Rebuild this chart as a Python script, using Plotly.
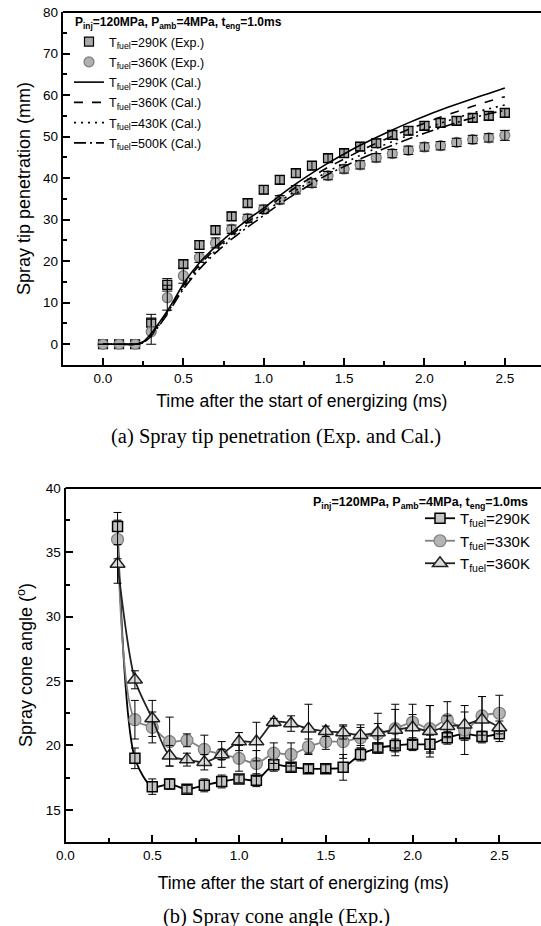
import plotly.graph_objects as go

W, H = 541, 926

# ---------------- data: (a) spray tip penetration ----------------
t_exp = [0.0, 0.1, 0.2, 0.3, 0.4, 0.5, 0.6, 0.7, 0.8, 0.9, 1.0, 1.1, 1.2,
         1.3, 1.4, 1.5, 1.6, 1.7, 1.8, 1.9, 2.0, 2.1, 2.2, 2.3, 2.4, 2.5]
exp290 = [0, 0, 0, 5.2, 14.3, 19.3, 23.9, 27.5, 30.8, 34.0, 37.2, 39.6, 41.2,
          43.0, 44.8, 46.0, 47.6, 48.4, 50.4, 51.4, 52.6, 53.3, 53.8, 54.5, 55.0, 55.7]
err290 = [0, 0, 0, 2.0, 1.5, 1.0, 1.0, 1.0, 1.0, 1.0, 1.0, 1.0, 1.0,
          1.0, 1.0, 1.0, 1.0, 1.0, 1.0, 1.0, 1.0, 1.0, 1.0, 1.0, 1.0, 1.0]
exp360 = [0, 0, 0, 3.0, 11.2, 16.5, 20.9, 24.4, 27.7, 30.3, 32.5, 34.8, 37.2,
          38.8, 40.6, 42.2, 43.2, 44.9, 45.9, 46.7, 47.5, 47.8, 48.6, 49.3, 49.7, 50.3]
err360 = [0, 0, 0, 3.0, 3.0, 1.8, 1.2, 1.2, 1.0, 1.0, 1.0, 1.0, 1.0,
          1.0, 1.0, 1.0, 1.0, 1.0, 1.0, 1.0, 1.0, 1.0, 1.0, 1.0, 1.0, 1.2]

t_cal = [0.0, 0.1, 0.2, 0.25, 0.3, 0.35, 0.4, 0.45, 0.5, 0.6, 0.7, 0.8, 0.9, 1.0,
         1.1, 1.2, 1.3, 1.4, 1.5, 1.6, 1.7, 1.8, 1.9, 2.0, 2.1, 2.2, 2.3, 2.4, 2.5]
cal290 = [0, 0, 0, 0.6, 2.6, 5.2, 8.0, 11.2, 14.5, 19.6, 23.5, 26.9, 30.0, 32.8,
          35.8, 38.6, 41.2, 43.6, 45.8, 47.9, 49.8, 51.6, 53.3, 54.9, 56.4, 57.8, 59.1, 60.4, 61.7]
cal360 = [0, 0, 0, 0.5, 2.4, 5.0, 7.8, 10.9, 14.1, 19.1, 23.0, 26.4, 29.4, 32.2,
          35.1, 37.8, 40.3, 42.6, 44.6, 46.6, 48.4, 50.1, 51.7, 53.2, 54.7, 56.0, 57.3, 58.5, 59.6]
cal430 = [0, 0, 0, 0.4, 2.2, 4.7, 7.5, 10.6, 13.7, 18.6, 22.5, 25.9, 28.8, 31.6,
          34.4, 37.0, 39.4, 41.6, 43.6, 45.5, 47.2, 48.8, 50.3, 51.8, 53.2, 54.5, 55.7, 56.7, 57.6]
cal500 = [0, 0, 0, 0.3, 2.0, 4.5, 7.2, 10.3, 13.3, 18.1, 22.0, 25.3, 28.2, 31.0,
          33.8, 36.3, 38.7, 40.9, 42.8, 44.6, 46.3, 47.9, 49.4, 50.8, 52.1, 53.4, 54.5, 55.5, 56.3]

# ---------------- data: (b) spray cone angle ----------------
t_ang = [0.3, 0.4, 0.5, 0.6, 0.7, 0.8, 0.9, 1.0, 1.1, 1.2, 1.3, 1.4,
         1.5, 1.6, 1.7, 1.8, 1.9, 2.0, 2.1, 2.2, 2.3, 2.4, 2.5]
ang290 = [37.0, 19.0, 16.8, 17.0, 16.6, 16.9, 17.2, 17.4, 17.3, 18.5, 18.3, 18.2,
          18.2, 18.3, 19.3, 19.8, 20.0, 20.1, 20.1, 20.6, 20.9, 20.7, 20.9]
e_ang290 = [1.1, 0.8, 0.6, 0.4, 0.3, 0.5, 0.5, 0.3, 0.5, 0.5, 0.3, 0.3,
            0.3, 1.0, 0.5, 0.4, 0.5, 0.5, 0.7, 0.5, 0.5, 0.4, 0.6]
ang330 = [36.0, 22.0, 21.4, 20.3, 20.4, 19.7, 19.3, 19.0, 18.6, 19.4, 19.3, 19.9,
          20.3, 20.3, 20.6, 20.9, 21.3, 21.8, 21.3, 22.0, 21.2, 22.3, 22.5]
e_ang330 = [1.5, 1.5, 1.2, 1.9, 0.5, 1.1, 1.0, 1.0, 1.0, 0.8, 0.9, 0.6,
            0.6, 1.3, 0.8, 0.8, 1.5, 1.4, 1.8, 1.4, 1.9, 1.5, 1.4]
ang360 = [34.1, 25.1, 22.1, 19.2, 18.9, 18.7, 19.3, 20.3, 20.3, 21.8, 21.7, 21.3,
          21.1, 21.0, 20.8, 21.0, 21.2, 21.4, 21.1, 21.5, 21.6, 22.0, 21.4]
e_ang360 = [1.5, 0.7, 1.4, 0.8, 0.5, 0.6, 0.4, 0.7, 1.5, 0.3, 0.6, 1.9,
            0.4, 0.5, 0.8, 1.5, 2.0, 1.0, 2.0, 0.8, 1.0, 1.8, 0.5]

SANS = "Liberation Sans, Arial, sans-serif"
SERIF = "Liberation Serif, Times New Roman, serif"

fig = go.Figure()


def err(vals, w):
    return dict(type="data", array=vals, visible=True, color="black", thickness=1, width=w)


def overlay(x, y, e, w, xa, ya, lg, grp):
    # error bars drawn on top of the markers, as in the original figure
    return go.Scatter(x=x, y=y, mode="markers", marker=dict(size=1, opacity=0), error_y=err(e, w),
                      showlegend=False, hoverinfo="skip", xaxis=xa, yaxis=ya, legend=lg, legendgroup=grp)


# top: experiments
fig.add_trace(go.Scatter(x=t_exp, y=exp290, mode="markers", name="T<sub>fuel</sub>=290K (Exp.)",
                         marker=dict(symbol="square", size=9, color="#a9a9a9", line=dict(color="black", width=1.2)),
                         xaxis="x", yaxis="y", legend="legend", legendgroup="a1"))
fig.add_trace(overlay(t_exp, exp290, err290, 5, "x", "y", "legend", "a1"))
fig.add_trace(go.Scatter(x=t_exp, y=exp360, mode="markers", name="T<sub>fuel</sub>=360K (Exp.)",
                         marker=dict(symbol="circle", size=10, color="#b0b0b0", line=dict(color="#7a7a7a", width=1.2)),
                         xaxis="x", yaxis="y", legend="legend", legendgroup="a2"))
fig.add_trace(overlay(t_exp, exp360, err360, 5, "x", "y", "legend", "a2"))
# top: calculations
cal_sets = [(cal290, "290K", "solid"), (cal360, "360K", "dash"),
            (cal430, "430K", "2px,5px"), (cal500, "500K", "12px,4px,2px,4px")]
for i, (vals, lab, dash) in enumerate(cal_sets):
    fig.add_trace(go.Scatter(x=t_cal, y=vals, mode="lines", name="T<sub>fuel</sub>=" + lab + " (Cal.)",
                             line=dict(color="black", width=1.6, dash=dash, shape="spline", smoothing=0.6),
                             xaxis="x", yaxis="y", legend="legend", legendgroup="c%d" % i))

# bottom
fig.add_trace(go.Scatter(x=t_ang, y=ang290, mode="lines+markers", name="T<sub>fuel</sub>=290K",
                         line=dict(color="black", width=1.8, shape="spline", smoothing=0.8),
                         marker=dict(symbol="square", size=10, color="#c4c4c4", line=dict(color="black", width=1.5)),
                         xaxis="x2", yaxis="y2", legend="legend2", legendgroup="b1"))
fig.add_trace(overlay(t_ang, ang290, e_ang290, 4, "x2", "y2", "legend2", "b1"))
fig.add_trace(go.Scatter(x=t_ang, y=ang330, mode="lines+markers", name="T<sub>fuel</sub>=330K",
                         line=dict(color="#808080", width=1.8, shape="spline", smoothing=0.8),
                         marker=dict(symbol="circle", size=12, color="#b4b4b4", line=dict(color="#808080", width=1.2)),
                         xaxis="x2", yaxis="y2", legend="legend2", legendgroup="b2"))
fig.add_trace(overlay(t_ang, ang330, e_ang330, 4, "x2", "y2", "legend2", "b2"))
fig.add_trace(go.Scatter(x=t_ang, y=ang360, mode="lines+markers", name="T<sub>fuel</sub>=360K",
                         line=dict(color="#222222", width=1.8, shape="spline", smoothing=0.8),
                         marker=dict(symbol="triangle-up", size=13, color="#dcdcdc", line=dict(color="#222222", width=1.5)),
                         xaxis="x2", yaxis="y2", legend="legend2", legendgroup="b3"))
fig.add_trace(overlay(t_ang, ang360, e_ang360, 4, "x2", "y2", "legend2", "b3"))


def xax(domain, rng, standoff):
    return dict(domain=domain, range=rng, showline=True, linewidth=2, linecolor="black", automargin=False,
                ticks="inside", ticklen=7, tickwidth=2, tickcolor="black", dtick=0.5, tick0=0,
                tickformat=".1f", showgrid=False, zeroline=False,
                minor=dict(ticks="inside", ticklen=4, tickwidth=1.5, dtick=0.25, tick0=0, tickcolor="black"),
                tickfont=dict(family=SANS, size=13.5, color="black"),
                title=dict(text="Time after the start of energizing (ms)", standoff=standoff,
                           font=dict(family=SANS, size=17.5, color="black")))


def yax(domain, rng, dtick, title):
    return dict(domain=domain, range=rng, showline=True, linewidth=2, linecolor="black", automargin=False,
                ticks="inside", ticklen=7, tickwidth=2, tickcolor="black", dtick=dtick, tick0=0,
                showgrid=False, zeroline=False,
                minor=dict(ticks="inside", ticklen=4, tickwidth=1.5, dtick=dtick / 2, tick0=0, tickcolor="black"),
                tickfont=dict(family=SANS, size=13.5, color="black"),
                title=dict(text=title, standoff=8, font=dict(family=SANS, size=18, color="black")))


top_y = [1 - 365 / H, 1 - 12 / H]
bot_y = [1 - 842 / H, 1 - 488 / H]
top_xl = 62.8 / W
bot_xl = 65.5 / W

hdr = "<b>P<sub>inj</sub>=120MPa, P<sub>amb</sub>=4MPa, t<sub>eng</sub>=1.0ms</b>"

fig.update_layout(
    width=W, height=H, margin=dict(l=0, r=0, t=0, b=0),
    paper_bgcolor="white", plot_bgcolor="white",
    font=dict(family=SANS, color="black"),
    xaxis=xax([top_xl, 1], [-0.25, 2.725], 10) | dict(anchor="y"),
    yaxis=yax(top_y, [-5, 80], 10, "Spray tip penetration (mm)") | dict(anchor="x"),
    xaxis2=xax([bot_xl, 1], [0, 2.74], 15) | dict(anchor="y2"),
    yaxis2=yax(bot_y, [12.5, 40], 5, "Spray cone angle (<sup>o</sup>)") | dict(anchor="x2"),
    legend=dict(x=69 / W, y=1 - 27 / H, xanchor="left", yanchor="top", bgcolor="rgba(0,0,0,0)",
                font=dict(family=SANS, size=12.5, color="black"), itemwidth=30, tracegroupgap=1),
    legend2=dict(x=420 / W, y=1 - 502 / H, xanchor="left", yanchor="top", bgcolor="rgba(0,0,0,0)",
                 font=dict(family=SANS, size=15, color="black"), itemwidth=30, tracegroupgap=0),
    shapes=[
        dict(type="line", xref="paper", yref="paper", x0=top_xl, x1=1, y0=top_y[1], y1=top_y[1],
             line=dict(color="black", width=2)),
        dict(type="line", xref="paper", yref="paper", x0=bot_xl, x1=1, y0=bot_y[1], y1=bot_y[1],
             line=dict(color="black", width=2)),
    ],
    annotations=[
        dict(text=hdr, xref="paper", yref="paper", x=73 / W, y=1 - 23 / H, xanchor="left", yanchor="middle",
             showarrow=False, font=dict(family=SANS, size=12, color="black")),
        dict(text=hdr, xref="paper", yref="paper", x=530 / W, y=1 - 503 / H, xanchor="right", yanchor="middle",
             showarrow=False, font=dict(family=SANS, size=12.5, color="black")),
        dict(text="(a) Spray tip penetration (Exp. and Cal.)", xref="paper", yref="paper",
             x=276 / W, y=1 - 437 / H, xanchor="center", yanchor="middle",
             showarrow=False, font=dict(family=SERIF, size=20.5, color="black")),
        dict(text="(b) Spray cone angle (Exp.)", xref="paper", yref="paper",
             x=276 / W, y=1 - 916 / H, xanchor="center", yanchor="middle",
             showarrow=False, font=dict(family=SERIF, size=20.5, color="black")),
    ],
)

fig.write_html("out.html")
